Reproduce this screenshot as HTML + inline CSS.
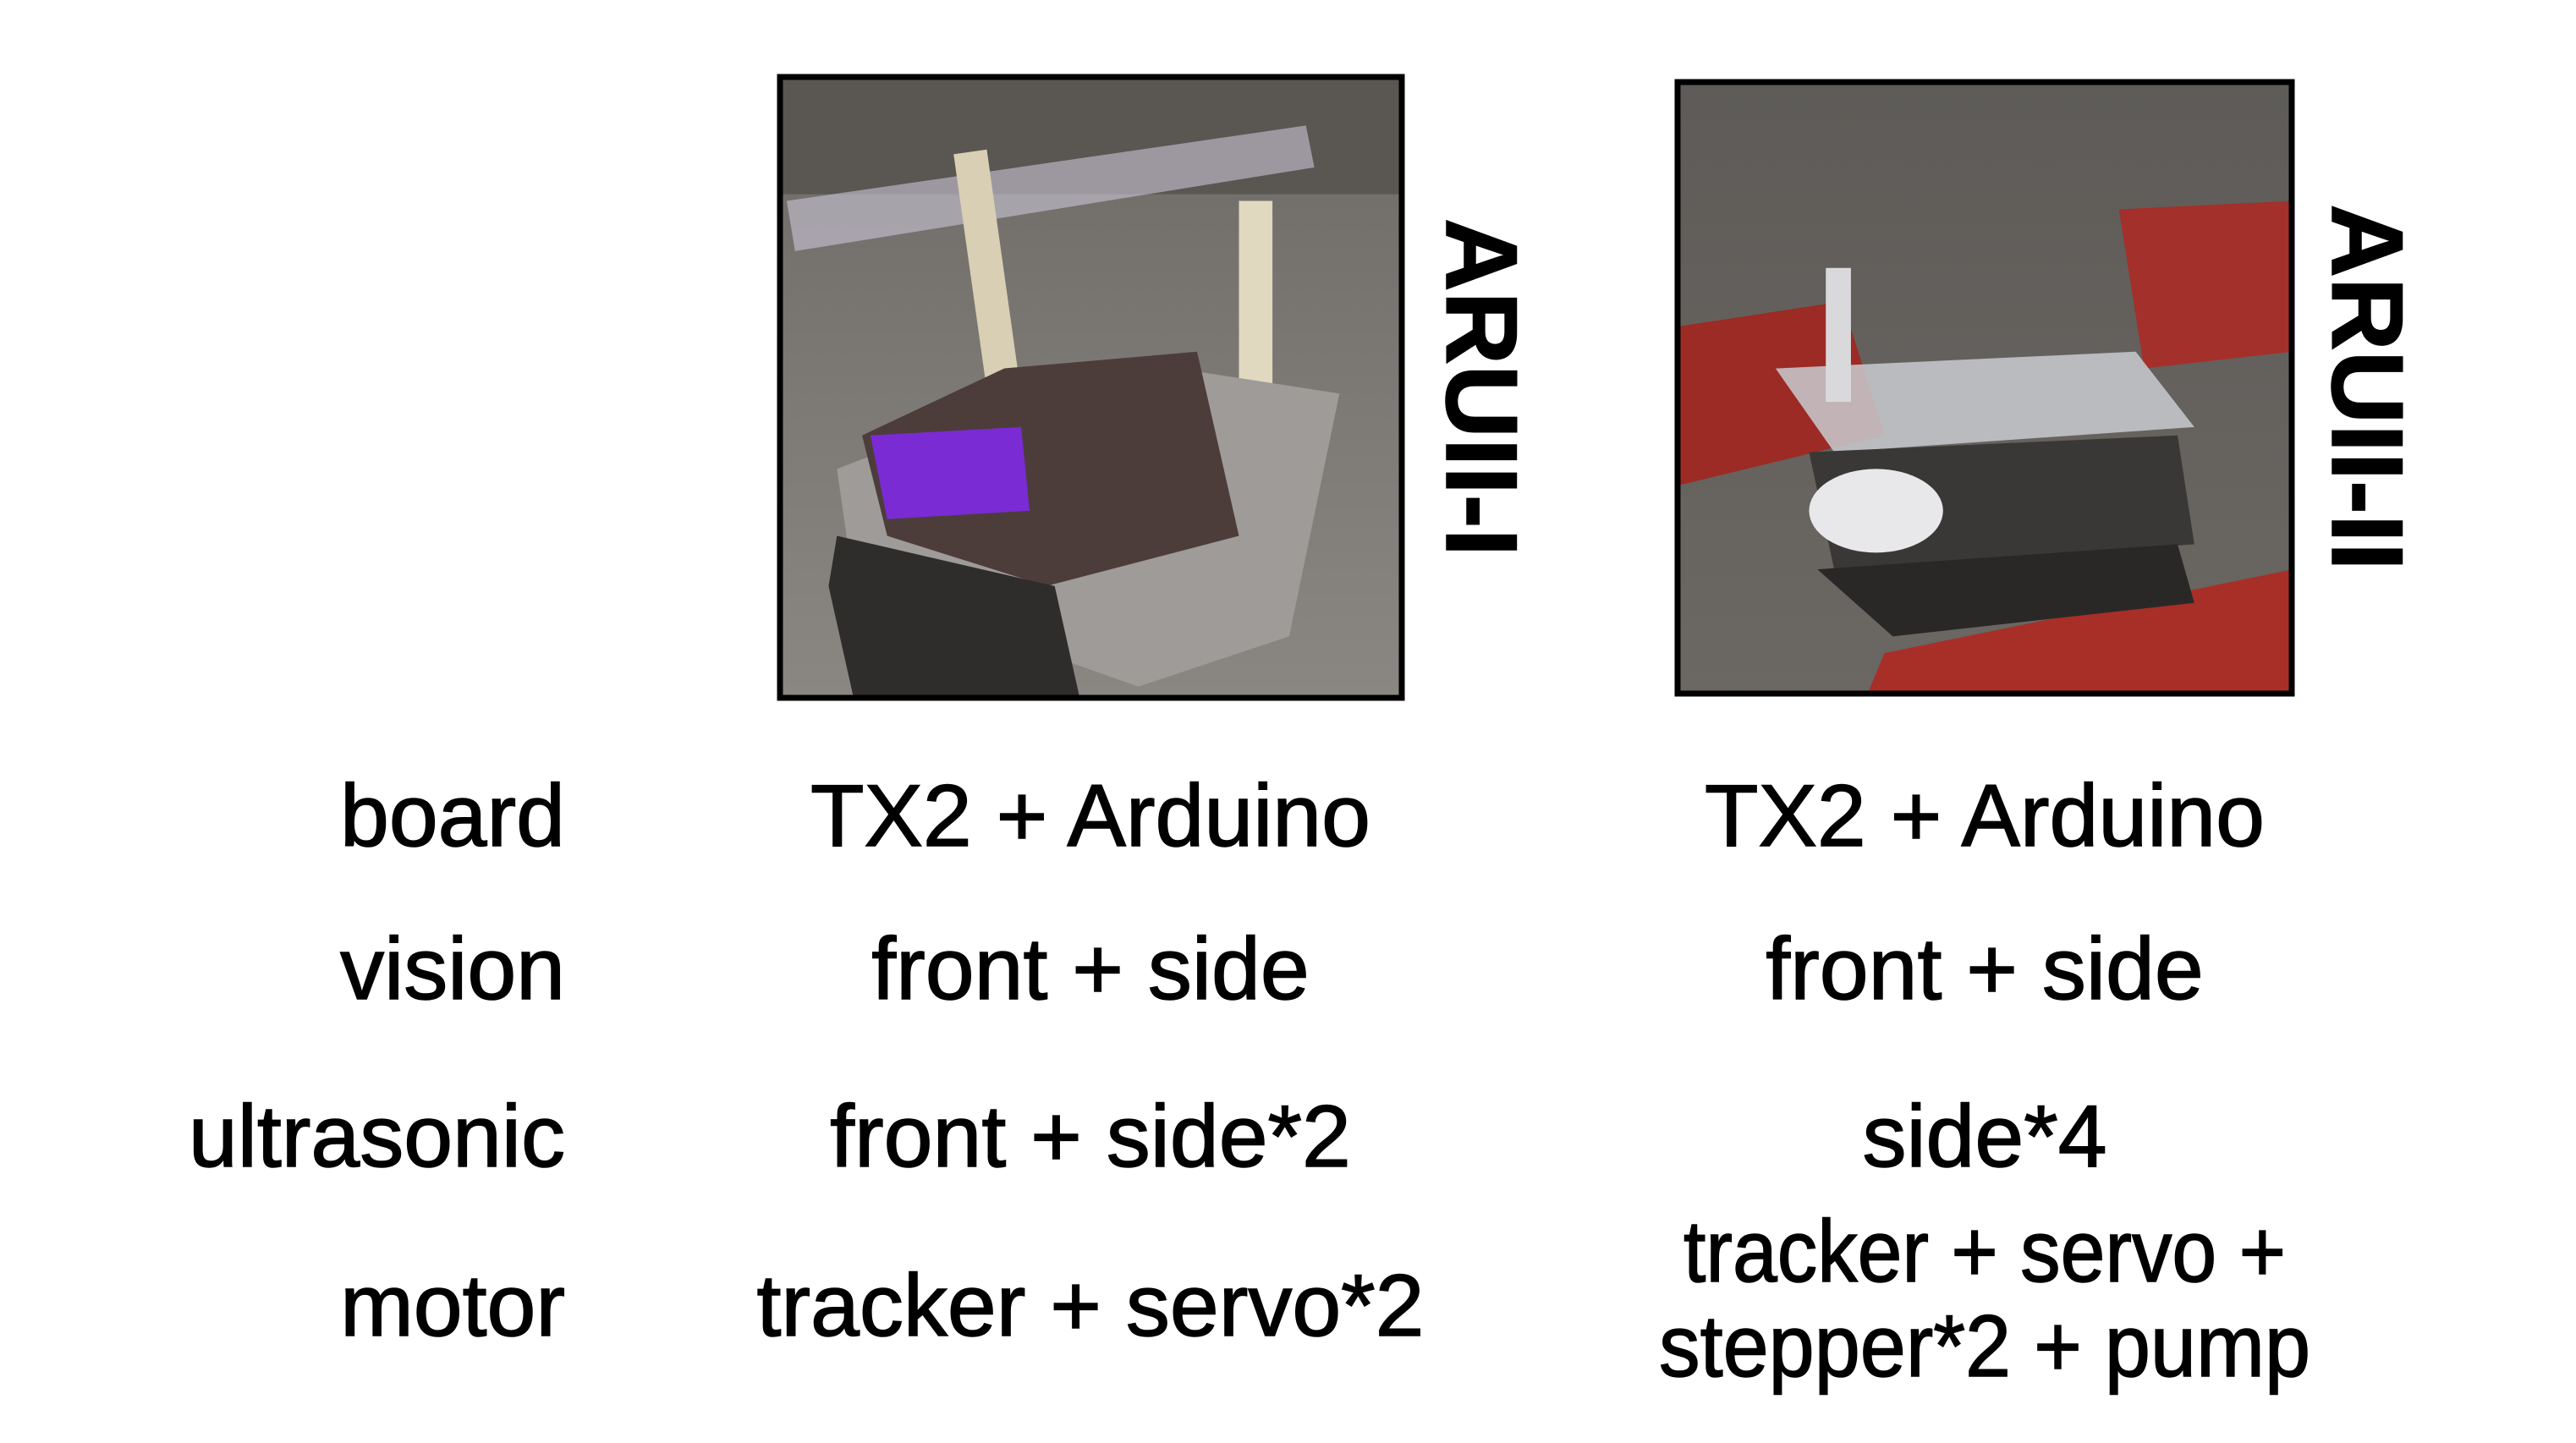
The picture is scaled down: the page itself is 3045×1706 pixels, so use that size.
<!DOCTYPE html>
<html><head><meta charset="utf-8"><style>
html,body{margin:0;padding:0;background:#fff;}
svg{display:block;}
text{font-family:"Liberation Sans",sans-serif;font-size:104px;fill:#000;stroke:#000;stroke-width:1.5px;}
</style></head><body>
<svg width="3045" height="1706" viewBox="0 0 3045 1706" xmlns="http://www.w3.org/2000/svg">
<defs>
<linearGradient id="g1" x1="0" y1="0" x2="0" y2="1">
<stop offset="0" stop-color="#6d6a66"/><stop offset="0.5" stop-color="#7c7975"/><stop offset="1" stop-color="#8a8783"/></linearGradient>
<linearGradient id="g2" x1="0" y1="0" x2="0" y2="1">
<stop offset="0" stop-color="#5e5b58"/><stop offset="1" stop-color="#6b6763"/></linearGradient>
</defs>
<!-- photo 1 -->
<g transform="translate(922 91) scale(0.99)">
<rect x="0" y="0" width="742" height="742" fill="url(#g1)"/>
<rect x="0" y="0" width="742" height="140" fill="#5a5652"/>
<polygon points="8,148 628,58 638,108 18,208" fill="#c9c4d6" opacity="0.6"/>
<rect x="228" y="88" width="40" height="300" fill="#d8cfb4" transform="rotate(-8 248 238)"/>
<rect x="548" y="148" width="40" height="260" fill="#e0d8bf"/>
<polygon points="68,468 408,338 668,378 608,668 428,728 88,608" fill="#9f9b98"/>
<polygon points="98,428 268,348 498,328 548,548 318,608 128,548" fill="#4d3d3a"/>
<polygon points="108,428 288,418 298,518 128,528" fill="#7a2bd4"/>
<polygon points="68,548 328,608 358,742 88,742 58,608" fill="#2f2d2c"/>
</g>
<rect x="922" y="91" width="735" height="734" fill="none" stroke="#000" stroke-width="7"/>
<!-- photo 2 -->
<g transform="translate(1983 97) scale(0.99)">
<rect x="0" y="0" width="734" height="730" fill="url(#g2)"/>
<polygon points="0,292 197,262 247,422 0,482" fill="#9b2b24"/>
<polygon points="527,152 734,142 734,322 557,342" fill="#a3302a"/>
<polygon points="247,682 734,582 734,730 227,730" fill="#a82f28"/>
<polygon points="117,342 547,322 617,412 187,442" fill="#c9cbd0" opacity="0.85"/>
<polygon points="157,442 597,422 617,552 187,582" fill="#3a3836"/>
<ellipse cx="237" cy="512" rx="80" ry="50" fill="#e8e8ea"/>
<polygon points="167,582 597,552 617,622 257,662" fill="#2a2827"/>
<rect x="177" y="222" width="30" height="160" fill="#d9d9db"/>
</g>
<rect x="1983" y="97" width="726" height="723" fill="none" stroke="#000" stroke-width="7"/>
<!-- rotated labels -->
<text x="1753" y="458" text-anchor="middle" style="font-weight:bold;font-size:120px" transform="rotate(90 1753 458)" dy="43">ARUII-I</text>
<text x="2800" y="458" text-anchor="middle" style="font-weight:bold;font-size:120px" transform="rotate(90 2800 458)" dy="43">ARUII-II</text>
<!-- row labels -->
<g text-anchor="end">
<text x="668" y="1000">board</text>
<text x="668" y="1181">vision</text>
<text x="668" y="1379">ultrasonic</text>
<text x="668" y="1579">motor</text>
</g>
<g text-anchor="middle">
<text x="1289" y="1000">TX2 + Arduino</text>
<text x="1289" y="1181">front + side</text>
<text x="1289" y="1379">front + side*2</text>
<text x="1289" y="1579">tracker + servo*2</text>
<text x="2346" y="1000">TX2 + Arduino</text>
<text x="2346" y="1181">front + side</text>
<text x="2346" y="1379">side*4</text>
<text x="2346" y="1515" textLength="712" lengthAdjust="spacingAndGlyphs">tracker + servo +</text>
<text x="2346" y="1627" textLength="770" lengthAdjust="spacingAndGlyphs">stepper*2 + pump</text>
</g>
</svg>
</body></html>
